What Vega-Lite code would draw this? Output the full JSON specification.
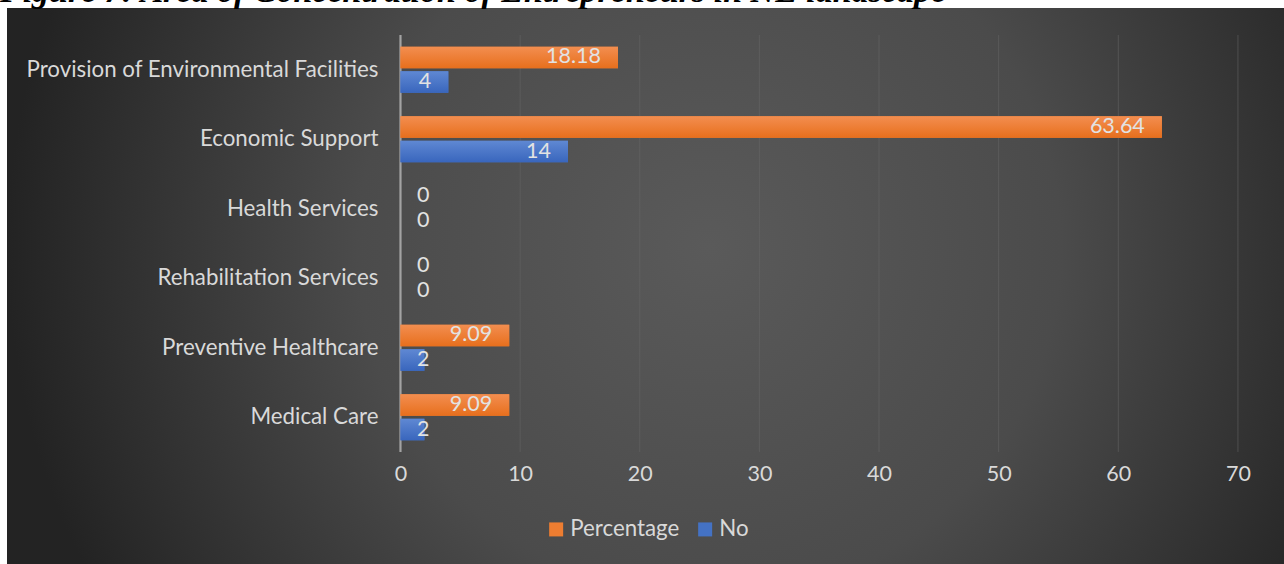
{
  "$schema": "https://vega.github.io/schema/vega-lite/v6.json",
  "width": 1277,
  "height": 556,
  "autosize": "none",
  "padding": {"left": 7, "top": 8, "right": 0, "bottom": 0},
  "background": "white",
  "title": {
    "text": "Figure 7: Area of Concentration of Entrepreneurs in NE landscape",
    "orient": "top",
    "anchor": "start",
    "frame": "group",
    "offset": -28,
    "baseline": "alphabetic",
    "dx": -7,
    "font": "Liberation Serif",
    "fontStyle": "italic",
    "fontWeight": "bold",
    "fontSize": 34,
    "color": "black"
  },
  "config": {
    "font": "Lato",
    "view": {
      "stroke": null,
      "fill": {
        "gradient": "radial",
        "x1": 0.55, "y1": 0.47, "r1": 0,
        "x2": 0.55, "y2": 0.47, "r2": 0.55,
        "stops": [
          {"offset": 0, "color": "#5a5a5a"},
          {"offset": 0.5, "color": "#4b4b4b"},
          {"offset": 1, "color": "#232323"}
        ]
      }
    }
  },
  "datasets": {
    "bars": [
      {"cat": "Provision of Environmental Facilities", "series": "Percentage", "value": 18.18},
      {"cat": "Provision of Environmental Facilities", "series": "No", "value": 4},
      {"cat": "Economic Support", "series": "Percentage", "value": 63.64},
      {"cat": "Economic Support", "series": "No", "value": 14},
      {"cat": "Health Services", "series": "Percentage", "value": 0},
      {"cat": "Health Services", "series": "No", "value": 0},
      {"cat": "Rehabilitation Services", "series": "Percentage", "value": 0},
      {"cat": "Rehabilitation Services", "series": "No", "value": 0},
      {"cat": "Preventive Healthcare", "series": "Percentage", "value": 9.09},
      {"cat": "Preventive Healthcare", "series": "No", "value": 2},
      {"cat": "Medical Care ", "series": "Percentage", "value": 9.09},
      {"cat": "Medical Care ", "series": "No", "value": 2}
    ],
    "grid": [
      {"t": 0}, {"t": 10}, {"t": 20}, {"t": 30}, {"t": 40}, {"t": 50}, {"t": 60}, {"t": 70}
    ]
  },
  "layer": [
    {
      "data": {"name": "grid"},
      "mark": {"type": "rule"},
      "encoding": {
        "x": {"field": "t", "type": "quantitative"},
        "y": {"datum": "Provision of Environmental Facilities", "type": "nominal", "bandPosition": 0},
        "y2": {"datum": "Medical Care ", "bandPosition": 1},
        "stroke": {"condition": {"test": "datum.t === 0", "value": "#a3a3a3"}, "value": "#666666"},
        "strokeWidth": {"condition": {"test": "datum.t === 0", "value": 2.2}, "value": 1},
        "strokeOpacity": {"condition": {"test": "datum.t === 0", "value": 1}, "value": 0.55}
      }
    },
    {
      "data": {"name": "bars"},
      "mark": {"type": "bar"},
      "encoding": {
        "y": {
          "field": "cat",
          "type": "nominal",
          "scale": {
            "domain": ["Provision of Environmental Facilities", "Economic Support", "Health Services", "Rehabilitation Services", "Preventive Healthcare", "Medical Care "],
            "paddingInner": 0,
            "paddingOuter": 1.1,
            "align": 0.194
          },
          "axis": {
            "title": null,
            "domain": false,
            "ticks": false,
            "grid": false,
            "offset": -371,
            "labelPadding": 0,
            "labelLimit": 0,
            "labelFontSize": 22.3,
            "labelColor": "#d9d9d9",
            "labelFont": "Lato"
          }
        },
        "yOffset": {
          "field": "series",
          "type": "nominal",
          "scale": {"domain": ["Percentage", "No"], "paddingInner": 0.125, "paddingOuter": 0.475}
        },
        "x": {
          "field": "value",
          "type": "quantitative",
          "stack": null,
          "scale": {"domain": [-32.89, 73.85], "nice": false, "zero": false},
          "axis": {
            "title": null,
            "values": [0, 10, 20, 30, 40, 50, 60, 70],
            "domain": false,
            "ticks": false,
            "grid": false,
            "offset": -120,
            "labelPadding": 19,
            "labelFontSize": 21.5,
            "labelColor": "#d9d9d9",
            "labelFont": "Lato"
          }
        },
        "x2": {"datum": 0},
        "color": {
          "field": "series",
          "type": "nominal",
          "scale": {"domain": ["Percentage", "No"], "range": ["#ED7D31", "#4472C4"]},
          "legend": {
            "orient": "none",
            "legendX": 538,
            "legendY": 510,
            "direction": "horizontal",
            "title": null,
            "padding": 0,
            "symbolType": "square",
            "symbolSize": 196,
            "symbolStrokeWidth": 0,
            "symbolOpacity": 1,
            "labelFontSize": 22.3,
            "labelColor": "#d9d9d9",
            "labelFont": "Lato",
            "labelOffset": 3,
            "columnPadding": 14
          }
        }
      }
    },
    {
      "data": {"name": "bars"},
      "mark": {"type": "bar"},
      "encoding": {
        "y": {"field": "cat", "type": "nominal"},
        "yOffset": {"field": "series", "type": "nominal"},
        "x": {"field": "value", "type": "quantitative", "stack": null},
        "x2": {"datum": 0},
        "fill": {
          "condition": {
            "test": "datum.series === 'No'",
            "value": {"gradient": "linear", "x1": 0, "y1": 0, "x2": 0, "y2": 1, "stops": [{"offset": 0, "color": "#5f88d3"}, {"offset": 1, "color": "#3966bd"}]}
          },
          "value": {"gradient": "linear", "x1": 0, "y1": 0, "x2": 0, "y2": 1, "stops": [{"offset": 0, "color": "#f38e50"}, {"offset": 1, "color": "#e76f1d"}]}
        }
      }
    },
    {
      "data": {"name": "bars"},
      "transform": [{"filter": "datum.value >= 3"}],
      "mark": {"type": "text", "align": "right", "baseline": "middle", "dx": -17, "fontSize": 21.5, "font": "Lato", "color": "#e2e2e2"},
      "encoding": {
        "y": {"field": "cat", "type": "nominal"},
        "yOffset": {"field": "series", "type": "nominal"},
        "x": {"field": "value", "type": "quantitative"},
        "text": {"field": "value", "type": "nominal"}
      }
    },
    {
      "data": {"name": "bars"},
      "transform": [{"filter": "datum.value < 3"}],
      "mark": {"type": "text", "align": "left", "baseline": "middle", "dx": 16.5, "fontSize": 21.5, "font": "Lato", "color": "#e2e2e2"},
      "encoding": {
        "y": {"field": "cat", "type": "nominal"},
        "yOffset": {"field": "series", "type": "nominal"},
        "x": {"datum": 0},
        "text": {"field": "value", "type": "nominal"}
      }
    }
  ]
}
